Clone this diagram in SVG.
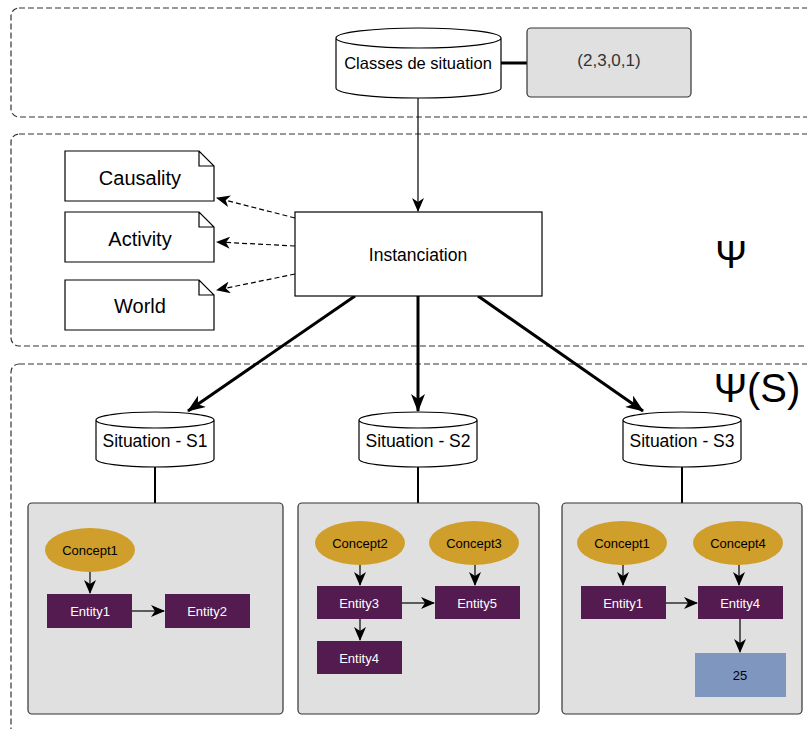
<svg xmlns="http://www.w3.org/2000/svg" width="807" height="729" viewBox="0 0 807 729">
<style>
.zone{fill:none;stroke:#333;stroke-width:1.2;stroke-dasharray:6,3}
.cyl{fill:#fff;stroke:#000;stroke-width:1.2}
.t{font-family:"Liberation Sans",Arial,sans-serif;text-anchor:middle;dominant-baseline:central;fill:#000}
.note{fill:#fff;stroke:#000;stroke-width:1.2}
.panel{fill:#e0e0e0;stroke:#333;stroke-width:1.2}
.concept{fill:#cf9e2b}
.entity{fill:#531b4f}
.ew{fill:#fff;font-size:13px}
.ln{fill:none;stroke:#000}
</style>
<defs>
<marker id="a1" markerUnits="userSpaceOnUse" markerWidth="14" markerHeight="12" viewBox="0 0 14 12" refX="13" refY="6" orient="auto">
<path d="M0,0 L14,6 L0,12 L4,6 Z" fill="#000"/>
</marker>
<marker id="a3" markerUnits="userSpaceOnUse" markerWidth="18" markerHeight="14" viewBox="0 0 18 14" refX="17" refY="7" orient="auto">
<path d="M0,0 L18,7 L0,14 L5,7 Z" fill="#000"/>
</marker>
</defs>

<g id="zones">
<rect class="zone" x="11" y="8" width="820" height="109" rx="8"/>
<rect class="zone" x="11" y="134" width="820" height="212" rx="8"/>
<rect class="zone" x="11" y="364" width="820" height="400" rx="8"/>
</g>

<g id="connectors">
<line class="ln" x1="501" y1="63" x2="527" y2="63" stroke-width="3"/>
<line class="ln" x1="418" y1="98" x2="418" y2="211" stroke-width="1.2" marker-end="url(#a1)"/>
<line class="ln" x1="295" y1="218" x2="217" y2="198" stroke-width="1.2" stroke-dasharray="5,3" marker-end="url(#a1)"/>
<line class="ln" x1="295" y1="246" x2="217" y2="242" stroke-width="1.2" stroke-dasharray="5,3" marker-end="url(#a1)"/>
<line class="ln" x1="295" y1="274" x2="217" y2="290" stroke-width="1.2" stroke-dasharray="5,3" marker-end="url(#a1)"/>
<line class="ln" x1="355" y1="296" x2="188" y2="411" stroke-width="3" marker-end="url(#a3)"/>
<line class="ln" x1="418" y1="296" x2="418" y2="411" stroke-width="3" marker-end="url(#a3)"/>
<line class="ln" x1="478" y1="296" x2="643" y2="411" stroke-width="3" marker-end="url(#a3)"/>
<line class="ln" x1="155" y1="467" x2="155" y2="503" stroke-width="2"/>
<line class="ln" x1="418" y1="467" x2="418" y2="503" stroke-width="2"/>
<line class="ln" x1="682" y1="467" x2="682" y2="503" stroke-width="2"/>
</g>

<g id="classes">
<path class="cyl" d="M336,38 a82.5,10 0 0 1 165,0 v50 a82.5,10 0 0 1 -165,0 Z M336,38 a82.5,10 0 0 0 165,0"/>
<text class="t" x="418" y="63" font-size="16.5">Classes de situation</text>
</g>
<g id="tuple">
<rect x="527" y="28" width="164" height="69" rx="4" fill="#e0e0e0" stroke="#333" stroke-width="1.2"/>
<text class="t" x="609" y="60" font-size="17" style="fill:#333">(2,3,0,1)</text>
</g>

<g id="instanciation">
<rect x="295" y="212" width="247" height="84" fill="#fff" stroke="#000" stroke-width="1.2"/>
<text class="t" x="418" y="255" font-size="17.5">Instanciation</text>
</g>

<g id="causality">
<path class="note" d="M65,151 H199 L214,166 V201 H65 Z M199,151 V166 H214"/>
<text class="t" x="140" y="178" font-size="20">Causality</text>
</g>
<g id="activity">
<path class="note" d="M65,212 H199 L214,227 V262 H65 Z M199,212 V227 H214"/>
<text class="t" x="140" y="239" font-size="20">Activity</text>
</g>
<g id="world">
<path class="note" d="M65,280 H199 L214,295 V330 H65 Z M199,280 V295 H214"/>
<text class="t" x="140" y="306" font-size="20">World</text>
</g>

<g id="psi">
<text class="t" x="731" y="255" font-size="38">Ψ</text>
</g>
<g id="psiS">
<text class="t" x="757" y="388" font-size="40">Ψ(S)</text>
</g>

<g id="s1">
<path class="cyl" d="M96,420 a59,8 0 0 1 118,0 v39 a59,8 0 0 1 -118,0 Z M96,420 a59,8 0 0 0 118,0"/>
<text class="t" x="155" y="441" font-size="17.5">Situation - S1</text>
</g>
<g id="s2">
<path class="cyl" d="M359,420 a59,8 0 0 1 118,0 v39 a59,8 0 0 1 -118,0 Z M359,420 a59,8 0 0 0 118,0"/>
<text class="t" x="418" y="441" font-size="17.5">Situation - S2</text>
</g>
<g id="s3">
<path class="cyl" d="M623,420 a59,8 0 0 1 118,0 v39 a59,8 0 0 1 -118,0 Z M623,420 a59,8 0 0 0 118,0"/>
<text class="t" x="682" y="441" font-size="17.5">Situation - S3</text>
</g>

<g id="panel1">
<rect class="panel" x="28" y="503" width="255" height="211" rx="4"/>
<g id="p1-concept1"><ellipse class="concept" cx="90" cy="550" rx="45" ry="22"/><text class="t" x="90" y="550" font-size="13">Concept1</text></g>
<g id="p1-entity1"><rect class="entity" x="47" y="594" width="85" height="34"/><text class="t ew" x="90" y="611">Entity1</text></g>
<g id="p1-entity2"><rect class="entity" x="165" y="594" width="85" height="34"/><text class="t ew" x="207" y="611">Entity2</text></g>
<line class="ln" x1="90" y1="572" x2="90" y2="593" stroke="#333" stroke-width="1.2" marker-end="url(#a1)"/>
<line class="ln" x1="132" y1="611" x2="164" y2="611" stroke="#333" stroke-width="1.2" marker-end="url(#a1)"/>
</g>

<g id="panel2">
<rect class="panel" x="298" y="503" width="241" height="211" rx="4"/>
<g id="p2-concept2"><ellipse class="concept" cx="360" cy="543" rx="45" ry="22"/><text class="t" x="360" y="543" font-size="13">Concept2</text></g>
<g id="p2-concept3"><ellipse class="concept" cx="474" cy="543" rx="45" ry="22"/><text class="t" x="474" y="543" font-size="13">Concept3</text></g>
<g id="p2-entity3"><rect class="entity" x="317" y="586" width="85" height="33"/><text class="t ew" x="359" y="603">Entity3</text></g>
<g id="p2-entity5"><rect class="entity" x="435" y="586" width="85" height="33"/><text class="t ew" x="477" y="603">Entity5</text></g>
<g id="p2-entity4"><rect class="entity" x="317" y="641" width="85" height="33"/><text class="t ew" x="359" y="658">Entity4</text></g>
<line class="ln" x1="360" y1="565" x2="360" y2="585" stroke="#333" stroke-width="1.2" marker-end="url(#a1)"/>
<line class="ln" x1="475" y1="565" x2="475" y2="585" stroke="#333" stroke-width="1.2" marker-end="url(#a1)"/>
<line class="ln" x1="402" y1="603" x2="434" y2="603" stroke="#333" stroke-width="1.2" marker-end="url(#a1)"/>
<line class="ln" x1="360" y1="619" x2="360" y2="640" stroke="#333" stroke-width="1.2" marker-end="url(#a1)"/>
</g>

<g id="panel3">
<rect class="panel" x="562" y="503" width="240" height="211" rx="4"/>
<g id="p3-concept1"><ellipse class="concept" cx="622" cy="543" rx="45" ry="22"/><text class="t" x="622" y="543" font-size="13">Concept1</text></g>
<g id="p3-concept4"><ellipse class="concept" cx="738" cy="543" rx="45" ry="22"/><text class="t" x="738" y="543" font-size="13">Concept4</text></g>
<g id="p3-entity1"><rect class="entity" x="581" y="586" width="85" height="33"/><text class="t ew" x="623" y="603">Entity1</text></g>
<g id="p3-entity4"><rect class="entity" x="698" y="586" width="85" height="33"/><text class="t ew" x="740" y="603">Entity4</text></g>
<g id="p3-value"><rect x="695" y="653" width="91" height="44" fill="#7f96bf"/><text class="t" x="740" y="675" font-size="13">25</text></g>
<line class="ln" x1="623" y1="565" x2="623" y2="585" stroke="#333" stroke-width="1.2" marker-end="url(#a1)"/>
<line class="ln" x1="739" y1="565" x2="739" y2="585" stroke="#333" stroke-width="1.2" marker-end="url(#a1)"/>
<line class="ln" x1="666" y1="603" x2="697" y2="603" stroke="#333" stroke-width="1.2" marker-end="url(#a1)"/>
<line class="ln" x1="740" y1="619" x2="740" y2="652" stroke="#000" stroke-width="1.2" marker-end="url(#a1)"/>
</g>
</svg>
